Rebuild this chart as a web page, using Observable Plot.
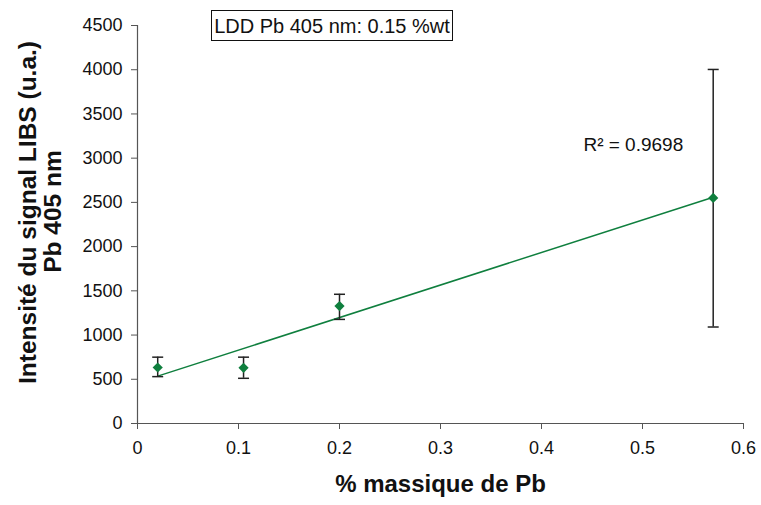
<!DOCTYPE html>
<html><head><meta charset="utf-8">
<script src="https://cdn.jsdelivr.net/npm/d3@7"></script>
<script src="https://cdn.jsdelivr.net/npm/@observablehq/plot@0.6"></script>
<style>
body{margin:0;background:#fff;}
#wrap{position:relative;width:761px;height:505px;font-family:"Liberation Sans",Arial,sans-serif;}
#ldd{position:absolute;left:211px;top:10px;width:240px;height:29px;border:1px solid #111;background:#fff;font-size:20px;line-height:30px;text-align:center;color:#111;white-space:nowrap;}
</style></head>
<body><div id="wrap"></div>
<script>
const xValues = [0.02, 0.105, 0.2, 0.57];
const yValues = [633, 630, 1328, 2550];
const errLow = [530, 511, 1177, 1091];
const errHigh = [750, 750, 1461, 4003];
const xTicks = [0, 0.1, 0.2, 0.3, 0.4, 0.5, 0.6];
const yTicks = [0, 500, 1000, 1500, 2000, 2500, 3000, 3500, 4000, 4500];
const boxLabel = "LDD Pb 405 nm: 0.15 %wt";
const r2Label = "R² = 0.9698";
const r2Pos = {x: 0.4415, y: 3150};
const xLabel = "% massique de Pb";
const yLabel1 = "Intensité du signal LIBS (u.a.)";
const yLabel2 = "Pb 405 nm";

const data = xValues.map((x, i) => ({x, y: yValues[i], lo: errLow[i], hi: errHigh[i]}));
const caps = data.flatMap(d => [{x: d.x, y: d.lo}, {x: d.x, y: d.hi}]);
const capSymbol = {draw(ctx, size){ const r = Math.sqrt(size / Math.PI); ctx.moveTo(-r, 0); ctx.lineTo(r, 0); }};

const green = "#0f7f3e";
const chart = Plot.plot({
  width: 761, height: 505,
  marginLeft: 137, marginRight: 18, marginTop: 25, marginBottom: 82,
  style: {fontFamily: '"Liberation Sans", Arial, sans-serif', fontSize: "18px", color: "#111", background: "#fff", overflow: "visible"},
  x: {domain: [0, 0.6]},
  y: {domain: [0, 4500]},
  marks: [
    Plot.ruleX([0], {stroke: "#555", strokeWidth: 1.2}),
    Plot.ruleY([0], {stroke: "#555", strokeWidth: 1.2}),
    Plot.axisY({ticks: yTicks, tickFormat: d => String(d), tickSize: 6, tickPadding: 9, stroke: "#555", fill: "#111", fontSize: 18, label: null}),
    Plot.axisX({ticks: xTicks, tickFormat: d => String(d), tickSize: 6, tickPadding: 12, stroke: "#555", fill: "#111", fontSize: 18, label: null}),
    Plot.linearRegressionY(data, {x: "x", y: "y", ci: 0, stroke: green, strokeWidth: 1.5}),
    Plot.ruleX(data, {x: "x", y1: "lo", y2: "hi", stroke: "#222", strokeWidth: 1.5}),
    Plot.dot(caps, {x: "x", y: "y", symbol: capSymbol, r: 5.5, stroke: "#222", strokeWidth: 1.5, fill: "none"}),
    Plot.dot(data, {x: "x", y: "y", symbol: "diamond2", r: 4.6, fill: green, stroke: "none"}),
    Plot.text([r2Label], {x: () => r2Pos.x, y: () => r2Pos.y, textAnchor: "start", fontSize: 19, fill: "#111"}),
    Plot.text([xLabel], {frameAnchor: "bottom", dy: 68, fontSize: 24, fontWeight: "bold", fill: "#111"}),
    Plot.text([yLabel1], {frameAnchor: "left", textAnchor: "middle", dx: -109, dy: -12, rotate: -90, fontSize: 24.5, fontWeight: "bold", fill: "#111"}),
    Plot.text([yLabel2], {frameAnchor: "left", textAnchor: "middle", dx: -84, dy: -13, rotate: -90, fontSize: 24.5, fontWeight: "bold", fill: "#111"})
  ]
});
const wrap = document.getElementById("wrap");
wrap.appendChild(chart);
const box = document.createElement("div");
box.id = "ldd";
box.textContent = boxLabel;
wrap.appendChild(box);
</script>
</body></html>
